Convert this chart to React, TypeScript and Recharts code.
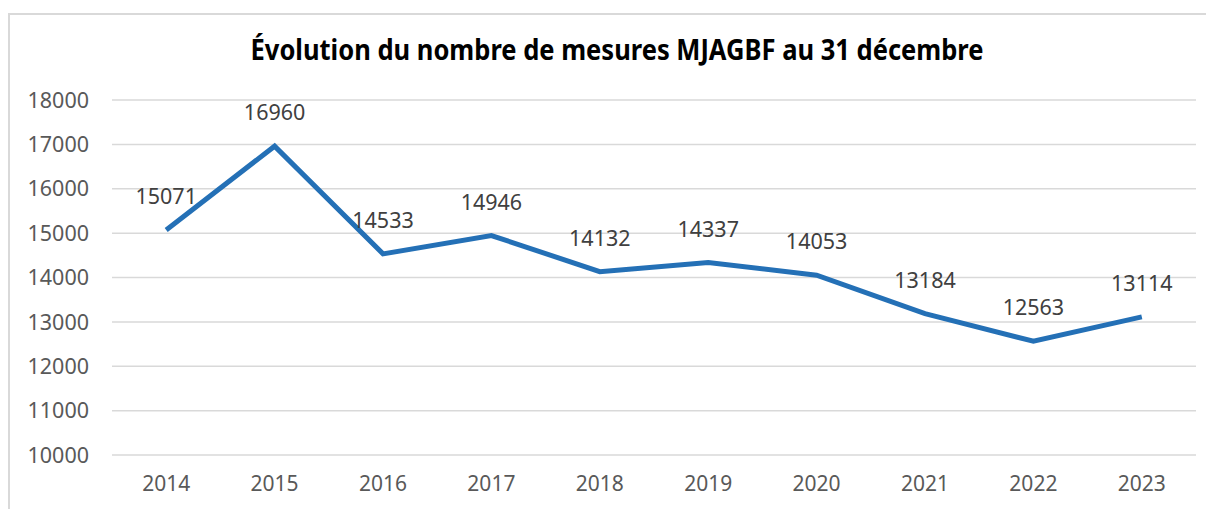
import React from "react";
import { LineChart, Line, XAxis, YAxis, CartesianGrid, LabelList } from "recharts";

const years = ["2014", "2015", "2016", "2017", "2018", "2019", "2020", "2021", "2022", "2023"];
const mesures = [15071, 16960, 14533, 14946, 14132, 14337, 14053, 13184, 12563, 13114];
const yTicks = [10000, 11000, 12000, 13000, 14000, 15000, 16000, 17000, 18000];
const title = "Évolution du nombre de mesures MJAGBF au 31 décembre";

const data = years.map((y, i) => ({ year: y, value: mesures[i] }));

const FONT = "'Noto Sans', 'Open Sans', sans-serif";

const renderLabel = (props: any) => {
  const { x, y, value } = props;
  return (
    <text
      x={x}
      y={y - 26}
      textAnchor="middle"
      fill="#404040"
      fontSize={21.5}
      fontFamily={FONT}
    >
      {value}
    </text>
  );
};

export default function App() {
  return (
    <div style={{ position: "relative", width: 1206, height: 501, fontFamily: FONT }}>
      <div
        style={{
          position: "absolute",
          left: 0,
          top: 5,
          width: 1206,
          height: 496,
          borderTop: "2px solid #d9d9d9",
          borderLeft: "2px solid #d9d9d9",
          boxSizing: "border-box",
        }}
      />
      <svg
        width={1206}
        height={80}
        style={{ position: "absolute", left: 0, top: 0 }}
      >
        <text
          x={609}
          y={51.5}
          textAnchor="middle"
          fontSize={28.5}
          fontWeight="bold"
          fontFamily={FONT}
          fill="#000000"
          textLength={733}
          lengthAdjust="spacingAndGlyphs"
        >
          {title}
        </text>
      </svg>
      <div style={{ position: "absolute", left: 0, top: 0 }}>
        <LineChart
          width={1206}
          height={501}
          data={data}
          margin={{ top: 92, right: 18, bottom: 24, left: 0 }}
        >
          <CartesianGrid vertical={false} stroke="#d9d9d9" strokeWidth={1.5} />
          <XAxis
            dataKey="year"
            scale="band"
            axisLine={false}
            tickLine={false}
            tickSize={0}
            tickMargin={21}
            height={30}
            interval={0}
            tick={{ fill: "#595959", fontSize: 21, fontFamily: FONT }}
          />
          <YAxis
            domain={[10000, 18000]}
            ticks={yTicks}
            width={104}
            axisLine={false}
            tickLine={false}
            tickSize={0}
            tickMargin={23}
            interval={0}
            tick={{ fill: "#595959", fontSize: 21.5, fontFamily: FONT }}
          />
          <Line
            type="linear"
            dataKey="value"
            stroke="#2470B6"
            strokeWidth={5}
            dot={false}
            activeDot={false}
            isAnimationActive={false}
          >
            <LabelList dataKey="value" content={renderLabel} />
          </Line>
        </LineChart>
      </div>
    </div>
  );
}
